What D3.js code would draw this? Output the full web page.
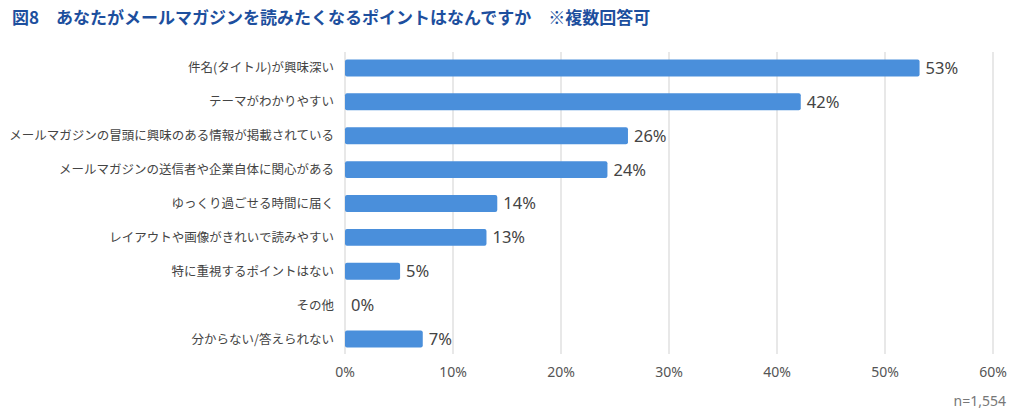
<!DOCTYPE html>
<html><head><meta charset="utf-8">
<script src="https://cdn.jsdelivr.net/npm/d3@7"></script>
<style>
html,body{margin:0;padding:0;background:#fff;}
svg{display:block;font-family:"Noto Sans CJK JP","Noto Sans",sans-serif;}
</style></head>
<body>
<svg id="c" width="1024" height="420"></svg>
<script>
const titleText = "図8\u3000あなたがメールマガジンを読みたくなるポイントはなんですか\u3000※複数回答可";
const categories = [
  "件名(タイトル)が興味深い",
  "テーマがわかりやすい",
  "メールマガジンの冒頭に興味のある情報が掲載されている",
  "メールマガジンの送信者や企業自体に関心がある",
  "ゆっくり過ごせる時間に届く",
  "レイアウトや画像がきれいで読みやすい",
  "特に重視するポイントはない",
  "その他",
  "分からない/答えられない"
];
const values = [53.2, 42.2, 26.2, 24.3, 14.1, 13.1, 5.1, 0, 7.2];
const valueLabels = ["53%", "42%", "26%", "24%", "14%", "13%", "5%", "0%", "7%"];
const ticks = [0, 10, 20, 30, 40, 50, 60];
const noteText = "n=1,554";

const svg = d3.select("#c");
const x = d3.scaleLinear().domain([0, 60]).range([345, 993]);
const y = d3.scaleBand().domain(categories).range([51, 356]).paddingInner(0.5).paddingOuter(0.25);

svg.append("text").attr("x", 12).attr("y", 24)
  .attr("fill", "#1d4f9e").attr("font-size", 17).attr("font-weight", 600)
  .text(titleText);

// gridlines
svg.append("g").selectAll("line").data(ticks).join("line")
  .attr("x1", d => x(d)).attr("x2", d => x(d))
  .attr("y1", 52).attr("y2", 354)
  .attr("stroke", "#d9d9d9").attr("stroke-width", 1.2);

// axis tick labels
svg.append("g").selectAll("text").data(ticks).join("text")
  .attr("x", d => x(d)).attr("y", 377)
  .attr("text-anchor", "middle").attr("fill", "#555").attr("font-size", 14)
  .attr("font-family", "'Noto Sans', sans-serif")
  .text(d => d + "%");

// bars
svg.append("g").selectAll("rect").data(values).join("rect")
  .attr("x", x(0)).attr("y", (d, i) => y(categories[i]))
  .attr("width", d => Math.max(0, x(d) - x(0)))
  .attr("height", y.bandwidth())
  .attr("rx", 2).attr("fill", "#4a8fdb");

// value labels
svg.append("g").selectAll("text").data(values).join("text")
  .attr("x", d => x(d) + 6)
  .attr("y", (d, i) => y(categories[i]) + y.bandwidth() / 2)
  .attr("dy", "0.36em")
  .attr("fill", "#444").attr("font-size", 16.5)
  .attr("font-family", "'Noto Sans', sans-serif")
  .text((d, i) => valueLabels[i]);

// category labels
svg.append("g").selectAll("text").data(categories).join("text")
  .attr("x", 334)
  .attr("y", d => y(d) + y.bandwidth() / 2)
  .attr("dy", "0.36em")
  .attr("text-anchor", "end").attr("fill", "#444").attr("font-size", 12.5)
  .text(d => d);

svg.append("text").attr("x", 1006).attr("y", 406)
  .attr("text-anchor", "end").attr("fill", "#777").attr("font-size", 14)
  .attr("font-family", "'Noto Sans', sans-serif")
  .text(noteText);
</script>
</body></html>
